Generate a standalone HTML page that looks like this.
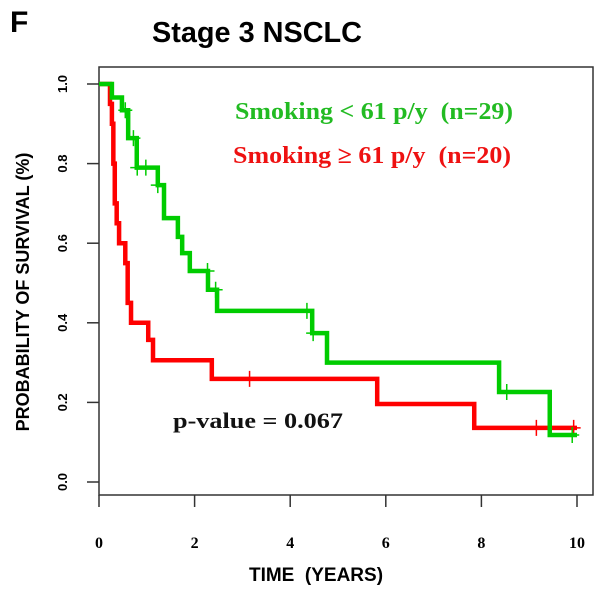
<!DOCTYPE html>
<html><head><meta charset="utf-8"><style>
body{margin:0;background:#fff}
svg text{font-family:"Liberation Sans",sans-serif;font-weight:bold;white-space:pre}
.tm{font-family:"Liberation Serif",serif!important}
</style></head><body>
<svg id="c" width="602" height="593" xmlns="http://www.w3.org/2000/svg" xml:space="preserve">
<text x="10" y="32" font-size="30">F</text>
<text x="152" y="42" font-size="29" textLength="210" lengthAdjust="spacingAndGlyphs">Stage 3 NSCLC</text>
<rect x="99" y="67" width="494" height="428" fill="none" stroke="#333" stroke-width="1.5"/>
<g id="axes"></g>
<g id="series"></g>
<text class="tm" x="235" y="119" font-size="24" textLength="278" lengthAdjust="spacingAndGlyphs" fill="#22bb22">Smoking &lt; 61 p/y  (n=29)</text>
<text class="tm" x="233" y="163" font-size="24" textLength="278" lengthAdjust="spacingAndGlyphs" fill="#ee1111">Smoking ≥ 61 p/y  (n=20)</text>
<text class="tm" x="173" y="428" font-size="22" textLength="170" lengthAdjust="spacingAndGlyphs" fill="#111">p-value = 0.067</text>
<text x="316" y="581" font-size="19" text-anchor="middle">TIME  (YEARS)</text>
<text transform="translate(29,292) rotate(-90)" font-size="18" text-anchor="middle">PROBABILITY OF SURVIVAL (%)</text>
</svg>
<script>
const xTicks=[0,2,4,6,8,10];
const yTicks=[0.0,0.2,0.4,0.6,0.8,1.0];
const greenTimes=[0.27,0.48,0.61,0.79,1.23,1.36,1.65,1.74,1.9,2.28,2.47,4.46,4.77,8.37,9.43];
const greenSurv=[0.966,0.934,0.864,0.79,0.746,0.663,0.616,0.575,0.53,0.483,0.43,0.374,0.30,0.226,0.118];
const greenCens=[0.55,0.8,0.98,1.23,0.72,2.27,2.44,4.35,4.48,8.53,9.9];
const redTimes=[0.23,0.27,0.30,0.33,0.37,0.42,0.55,0.60,0.67,1.03,1.13,2.36,5.82,7.85];
const redSurv=[0.95,0.90,0.80,0.70,0.65,0.60,0.55,0.45,0.40,0.357,0.306,0.259,0.196,0.136];
const redCens=[3.15,9.15,9.93];
const xs=t=>99+t*47.8, ys=v=>482-v*398;
const NS='http://www.w3.org/2000/svg';
const ax=document.getElementById('axes'), se=document.getElementById('series');
function mk(tag,attrs,parent){const e=document.createElementNS(NS,tag);for(const k in attrs)e.setAttribute(k,attrs[k]);parent.appendChild(e);return e;}
xTicks.forEach(t=>{
 const l=mk('line',{x1:xs(t),x2:xs(t),y1:495,y2:507,stroke:'#333','stroke-width':1.5},ax);
 
 
 const tx=mk('text',{x:xs(t),y:548,'font-size':16,'text-anchor':'middle',class:'tm'},ax);tx.textContent=t;
 
 
});
yTicks.forEach(v=>{
 const l=mk('line',{x1:87,x2:99,y1:ys(v),y2:ys(v),stroke:'#333','stroke-width':1.5},ax);
 
 
 const tx=mk('text',{transform:`translate(67,${ys(v)}) rotate(-90)`,'font-size':13,'text-anchor':'middle'},ax);tx.textContent=v.toFixed(1);
 
 
});
function survAt(times,surv,t){let s=1;for(let i=0;i<times.length;i++)if(times[i]<=t)s=surv[i];return s;}
function curve(times,surv,cens,color,name){
 let d=`M${xs(0)},${ys(1)}`;
 times.forEach((t,i)=>{d+=` H${xs(t)} V${ys(surv[i])}`;});
 d+=` H${xs(10)}`;
 const p=mk('path',{d:d,fill:'none',stroke:color,'stroke-width':4.5},se);
 
 
 cens.forEach(t=>{const y=ys(survAt(times,surv,t)),x=xs(t);
  const c=mk('path',{d:`M${x-7},${y}H${x+7}M${x},${y-8}V${y+8}`,stroke:color,'stroke-width':1.5},se);
  
  
 });
}
curve(redTimes,redSurv,redCens,'#ff0000','red');
curve(greenTimes,greenSurv,greenCens,'#00cc00','green');
</script>
</body></html>
